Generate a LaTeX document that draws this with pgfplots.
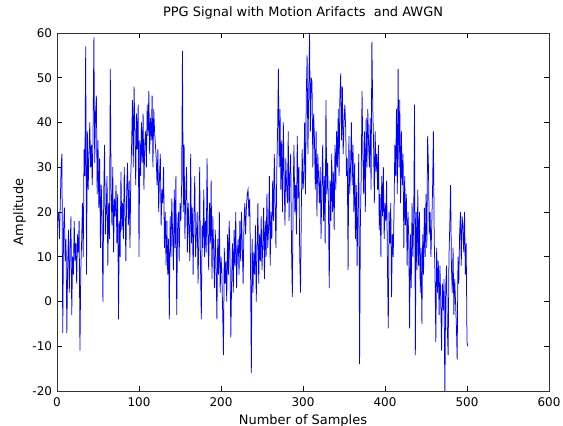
\documentclass[border=0pt]{standalone}
\usepackage{pgfplots}
\pgfplotsset{compat=1.18}
\usepackage{fontspec}
\setmainfont{DejaVu Sans}
\begin{document}
\begin{tikzpicture}
\path[use as bounding box] (-57bp,-35bp) rectangle (506bp,391bp);
\begin{axis}[
  at={(0,0)}, anchor=south west,
  scale only axis, width=492bp, height=358bp,
  xmin=0, xmax=600, ymin=-20, ymax=60,
  xtick={0,100,...,600}, ytick={-20,-10,...,60},
  tick align=inside, major tick length=5bp,
  tick style={black, line width=0.5bp},
  axis line style={black!80, line width=0.7bp},
  /pgf/number format/assume math mode=true,
  ticklabel style={font=\fontsize{12}{14}\selectfont},
  xticklabel style={yshift=-3bp},
  yticklabel style={xshift=-1.5bp},
  title={PPG Signal with Motion Arifacts\ \ and AWGN},
  title style={font=\fontsize{13}{15}\selectfont, at={(axis description cs:0.5,1.039)}, anchor=center},
  xlabel={Number of Samples},
  xlabel style={font=\fontsize{13}{15}\selectfont, at={(axis description cs:0.5,-0.0824)}, anchor=center},
  ylabel={Amplitude},
  ylabel style={font=\fontsize{13}{15}\selectfont, at={(axis description cs:-0.0762,0.5)}, anchor=center, rotate=0},
]
\addplot[color=blue, line width=0.75bp] table[x expr=\coordindex+1, y=y, row sep=\\] {
y\\
18\\ 20\\ 14\\ 22\\ 30\\ 33\\ -7\\ 16\\ 21\\ 9\\
14\\ -7\\ 8\\ 16\\ 2\\ 12\\ 19\\ -3\\ 10\\ 6\\
18\\ 9\\ 13\\ 4\\ 15\\ 11\\ 18\\ -11\\ 7\\ 13\\
22\\ 10\\ 34\\ 28\\ 57\\ 6\\ 38\\ 25\\ 33\\ 40\\
30\\ 35\\ 26\\ 38\\ 59\\ 31\\ 42\\ 46\\ 24\\ 36\\
21\\ 32\\ 12\\ 26\\ 18\\ 0\\ 24\\ 35\\ 15\\ 20\\
28\\ 8\\ 22\\ 14\\ 52\\ 25\\ 17\\ 30\\ 11\\ 23\\
19\\ 26\\ 13\\ 24\\ -4\\ 18\\ 10\\ 29\\ 16\\ 22\\
14\\ 30\\ 20\\ 9\\ 25\\ 31\\ 17\\ 27\\ 12\\ 28\\
35\\ 45\\ 30\\ 48\\ 38\\ 26\\ 42\\ 34\\ 44\\ 10\\
36\\ 28\\ 40\\ 31\\ 42\\ 25\\ 35\\ 38\\ 30\\ 44\\
37\\ 47\\ 33\\ 41\\ 36\\ 46\\ 30\\ 43\\ 38\\ 35\\
32\\ 26\\ 34\\ 20\\ 28\\ 33\\ 17\\ 25\\ 22\\ 30\\
12\\ 20\\ 8\\ 18\\ 6\\ 14\\ -4\\ 19\\ 10\\ 23\\
15\\ 7\\ 25\\ 12\\ 28\\ -3\\ 16\\ 20\\ 9\\ 22\\
18\\ 26\\ 56\\ 20\\ 35\\ 14\\ 24\\ 30\\ 11\\ 22\\
16\\ 9\\ 33\\ 13\\ 21\\ 6\\ 19\\ 28\\ 10\\ 15\\
20\\ 4\\ 14\\ 30\\ 8\\ -4\\ 17\\ 12\\ 25\\ 10\\
18\\ 11\\ 32\\ 15\\ 7\\ 22\\ 13\\ 27\\ 5\\ 19\\
12\\ 3\\ 16\\ 8\\ -4\\ 14\\ 6\\ 20\\ 2\\ 10\\
7\\ -2\\ -12\\ 12\\ 4\\ 9\\ 0\\ 15\\ 6\\ 18\\
10\\ -8\\ 5\\ 13\\ 2\\ 16\\ 8\\ 20\\ 3\\ 11\\
14\\ 6\\ 18\\ 9\\ 20\\ 12\\ 4\\ 17\\ 22\\ 15\\
21\\ 24\\ 25\\ 19\\ 23\\ 8\\ -16\\ 14\\ 2\\ 11\\
6\\ 17\\ 0\\ 12\\ 22\\ 4\\ 15\\ 9\\ 19\\ 7\\
13\\ 21\\ 5\\ 18\\ 10\\ 24\\ 12\\ 16\\ 28\\ 8\\
20\\ 14\\ 27\\ 18\\ 33\\ 22\\ 12\\ 29\\ 38\\ 52\\
30\\ 43\\ 25\\ 36\\ 20\\ 40\\ 28\\ 17\\ 32\\ 26\\
22\\ 38\\ 18\\ 29\\ 33\\ 12\\ 1\\ 24\\ 35\\ 20\\
26\\ 15\\ 37\\ 23\\ 30\\ 10\\ 2\\ 21\\ 34\\ 25\\
28\\ 40\\ 24\\ 46\\ 55\\ 33\\ 47\\ 60\\ 38\\ 50\\
49\\ 30\\ 42\\ 36\\ 25\\ 38\\ 19\\ 33\\ 28\\ 22\\
30\\ 14\\ 26\\ 35\\ 18\\ 28\\ 13\\ 45\\ 24\\ 31\\
22\\ 3\\ 27\\ 18\\ 33\\ 20\\ 29\\ 16\\ 35\\ 25\\
38\\ 30\\ 43\\ 28\\ 46\\ 51\\ 36\\ 48\\ 33\\ 40\\
44\\ 39\\ 28\\ 32\\ 7\\ 37\\ 24\\ 30\\ 40\\ 26\\
35\\ 20\\ 31\\ 14\\ 26\\ 8\\ 22\\ 33\\ -14\\ 18\\
28\\ 47\\ 33\\ 24\\ 38\\ 20\\ 41\\ 30\\ 43\\ 35\\
30\\ 41\\ 25\\ 58\\ 44\\ 36\\ 22\\ 38\\ 29\\ 33\\
25\\ 35\\ 16\\ 24\\ 10\\ 28\\ 19\\ 30\\ 14\\ 22\\
18\\ 27\\ 8\\ -6\\ 20\\ 13\\ 22\\ 1\\ 15\\ 10\\
20\\ 35\\ 28\\ 43\\ 24\\ 52\\ 30\\ 45\\ 22\\ 38\\
26\\ 33\\ 12\\ 28\\ 17\\ 24\\ 8\\ 20\\ 14\\ -6\\
15\\ 3\\ 22\\ 10\\ 18\\ 44\\ -12\\ 20\\ 7\\ 25\\
8\\ 20\\ 2\\ 12\\ -5\\ 15\\ 6\\ 21\\ 10\\ 24\\
12\\ 37\\ 30\\ 15\\ 20\\ 10\\ 17\\ 25\\ 38\\ 14\\
6\\ -9\\ 12\\ 2\\ 9\\ -3\\ 8\\ 0\\ -11\\ 4\\
-2\\ 5\\ -22\\ 3\\ 8\\ -6\\ -12\\ 10\\ 17\\ 26\\
8\\ 2\\ 12\\ -3\\ 5\\ 0\\ -5\\ -13\\ 10\\ 4\\
15\\ 20\\ 8\\ 19\\ 17\\ 11\\ 20\\ 6\\ 13\\ -9\\ -10\\
};
\end{axis}
\end{tikzpicture}
\end{document}
